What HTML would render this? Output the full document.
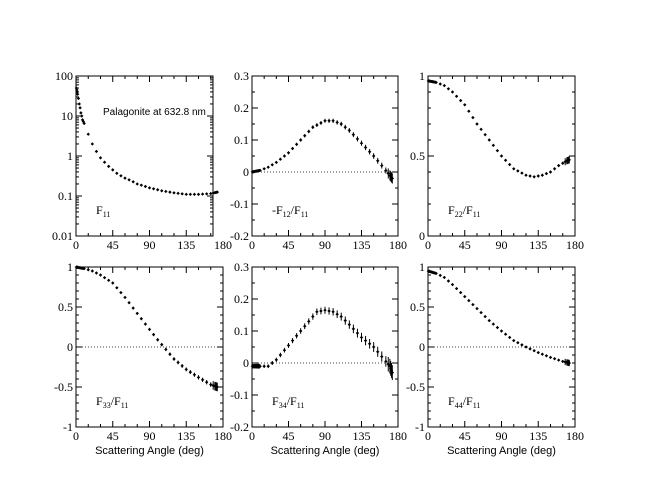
<!DOCTYPE html>
<html><head><meta charset="utf-8"><style>
html,body{margin:0;padding:0;background:#fff;width:650px;height:502px;overflow:hidden}
svg text{font-family:"Liberation Serif",serif;font-size:12px;fill:#000}
svg .s{font-family:"Liberation Sans",sans-serif;font-size:11px}
</style></head><body>
<svg id="c" width="650" height="502" xmlns="http://www.w3.org/2000/svg"></svg>
<script>
var svg=document.getElementById('c'),out='';
function interp(t,x){for(var i=0;i<t.length-1;i++){if(x<=t[i+1][0]){var a=t[i],b=t[i+1],f=(x-a[0])/(b[0]-a[0]);return a[1]+f*(b[1]-a[1]);}}return t[t.length-1][1];}
var angles=[0.5,1,1.5,2,3,4,5,6,7,8,9,10];for(var a=15;a<=165;a+=5)angles.push(a);angles.push(168,170,171,172,173);
var P=[
{x:76,y:76,w:147,fw:137,h:160,log:true,min:-2,max:2,labs:['0.01','0.1','1','10','100'],lv:[-2,-1,0,1,2],
 d:[[0,55],[2,35],[4,20],[6,12],[8,8],[10,6.5],[15,3.5],[20,2],[25,1.3],[30,0.9],[35,0.7],[40,0.55],[45,0.45],[50,0.37],[55,0.32],[60,0.28],[75,0.2],[90,0.16],[105,0.135],[120,0.12],[135,0.11],[150,0.11],[165,0.115],[173,0.125]],lab:['F','11',''],eb:0},
{x:252,y:76,w:146,fw:146,h:160,min:-0.2,max:0.3,maj:0.1,mn:0.05,labs:['-0.2','-0.1','0','0.1','0.2','0.3'],zero:true,
 d:[[0,0],[10,0.005],[20,0.015],[30,0.03],[45,0.06],[60,0.1],[75,0.14],[90,0.16],[100,0.16],[110,0.15],[120,0.13],[135,0.09],[150,0.05],[160,0.02],[173,-0.02]],lab:['-F','12','/F','11'],eb:0.8},
{x:428,y:76,w:147,fw:147,h:160,min:0,max:1,maj:0.5,mn:0.1,labs:['0','0.5','1'],
 d:[[0,0.97],[10,0.96],[20,0.94],[30,0.9],[45,0.82],[60,0.7],[75,0.6],[90,0.5],[105,0.42],[120,0.38],[130,0.37],[140,0.38],[150,0.4],[160,0.44],[170,0.47],[175,0.48]],lab:['F','22','/F','11'],eb:0.4},
{x:76,y:267,w:147,fw:147,h:160,min:-1,max:1,maj:0.5,mn:0.1,labs:['-1','-0.5','0','0.5','1'],zero:true,
 d:[[0,1],[10,0.98],[20,0.95],[30,0.9],[45,0.8],[60,0.62],[75,0.42],[90,0.22],[100,0.09],[110,-0.03],[120,-0.15],[135,-0.28],[150,-0.38],[165,-0.47],[173,-0.5]],lab:['F','33','/F','11'],eb:0.6},
{x:252,y:267,w:146,fw:146,h:160,min:-0.2,max:0.3,maj:0.1,mn:0.05,labs:['-0.2','-0.1','0','0.1','0.2','0.3'],zero:true,
 d:[[0,-0.01],[20,-0.01],[30,0.01],[40,0.04],[50,0.07],[60,0.1],[70,0.13],[80,0.16],[90,0.165],[100,0.16],[110,0.145],[120,0.12],[135,0.08],[150,0.05],[160,0.02],[170,-0.01],[173,-0.03]],lab:['F','34','/F','11'],eb:1.4},
{x:428,y:267,w:147,fw:147,h:160,min:-1,max:1,maj:0.5,mn:0.1,labs:['-1','-0.5','0','0.5','1'],zero:true,
 d:[[0,0.95],[10,0.92],[20,0.87],[30,0.78],[45,0.63],[60,0.48],[75,0.33],[90,0.2],[105,0.08],[120,0],[135,-0.07],[150,-0.13],[165,-0.18],[173,-0.2]],lab:['F','44','/F','11'],eb:0.3}
];
P.forEach(function(p,k){
 function Y(v){var t=p.log?Math.log10(v):v;return p.y+p.h-(t-p.min)/(p.max-p.min)*p.h;}
 function X(a){return p.x+a/180*p.w;}
 var x0=p.x,x1=p.x+p.fw,y0=p.y,y1=p.y+p.h;
 out+='<rect x="'+x0+'" y="'+y0+'" width="'+p.fw+'" height="'+p.h+'" fill="none" stroke="#000" stroke-width="1"/>';
 for(var a=0;a<=180;a+=15){var xx=X(a);if(xx>x1+0.5)continue;var L=a%45==0?6:3;
  out+='<line x1="'+xx+'" y1="'+y1+'" x2="'+xx+'" y2="'+(y1-L)+'" stroke="#000"/><line x1="'+xx+'" y1="'+y0+'" x2="'+xx+'" y2="'+(y0+L)+'" stroke="#000"/>';}
 [0,45,90,135,180].forEach(function(a){out+='<text x="'+X(a)+'" y="'+(y1+13)+'" text-anchor="middle">'+a+'</text>';});
 function yt(yy,L){out+='<line x1="'+x0+'" y1="'+yy+'" x2="'+(x0+L)+'" y2="'+yy+'" stroke="#000"/><line x1="'+x1+'" y1="'+yy+'" x2="'+(x1-L)+'" y2="'+yy+'" stroke="#000"/>';}
 if(p.log){for(var e=-2;e<=2;e++){yt(Y(Math.pow(10,e)),6);if(e<2)for(var m=2;m<10;m++)yt(Y(m*Math.pow(10,e)),3);}
  p.lv.forEach(function(e,i){out+='<text x="'+(x0-3)+'" y="'+(Y(Math.pow(10,e))+4)+'" text-anchor="end">'+p.labs[i]+'</text>';});}
 else{var n=Math.round((p.max-p.min)/p.mn);for(var i=0;i<=n;i++){var v=p.min+i*p.mn;var isM=Math.abs(v/p.maj-Math.round(v/p.maj))<1e-6;yt(Y(v),isM?6:3);}
  var nm=Math.round((p.max-p.min)/p.maj);for(var i=0;i<=nm;i++){var v=p.min+i*p.maj;out+='<text x="'+(x0-3)+'" y="'+(Y(v)+4)+'" text-anchor="end">'+p.labs[i]+'</text>';}}
 if(p.zero){var yz=Y(0);out+='<line x1="'+x0+'" y1="'+yz+'" x2="'+x1+'" y2="'+yz+'" stroke="#000" stroke-width="0.7" stroke-dasharray="1,2"/>';}
 angles.forEach(function(a){var v=interp(p.d,a);var xx=X(a),yy=Y(v);
  if(p.eb){var e=p.eb*(1+a/60)*(a<10?1.5:1)+(a>165?2:0);out+='<line x1="'+xx+'" y1="'+(yy-e)+'" x2="'+xx+'" y2="'+(yy+e)+'" stroke="#000"/>';}
  out+='<path d="M'+(xx-1.7)+' '+yy+'L'+xx+' '+(yy-1.7)+'L'+(xx+1.7)+' '+yy+'L'+xx+' '+(yy+1.7)+'Z" fill="#000"/>';});
 var lx=x0+20,ly=y1-22;var l=p.lab;
 out+='<text x="'+lx+'" y="'+ly+'">'+l[0]+'<tspan font-size="8" dy="3">'+l[1]+'</tspan>'+(l[2]?'<tspan dy="-3">'+l[2]+'</tspan><tspan font-size="8" dy="3">'+l[3]+'</tspan>':'')+'</text>';
 if(k>=3)out+='<text class="s" x="'+(p.x+p.w/2)+'" y="454" text-anchor="middle">Scattering Angle (deg)</text>';
});
out+='<text class="s" x="103" y="115" style="font-size:10px">Palagonite at 632.8 nm</text>';
svg.innerHTML=out;
</script>
</body></html>
